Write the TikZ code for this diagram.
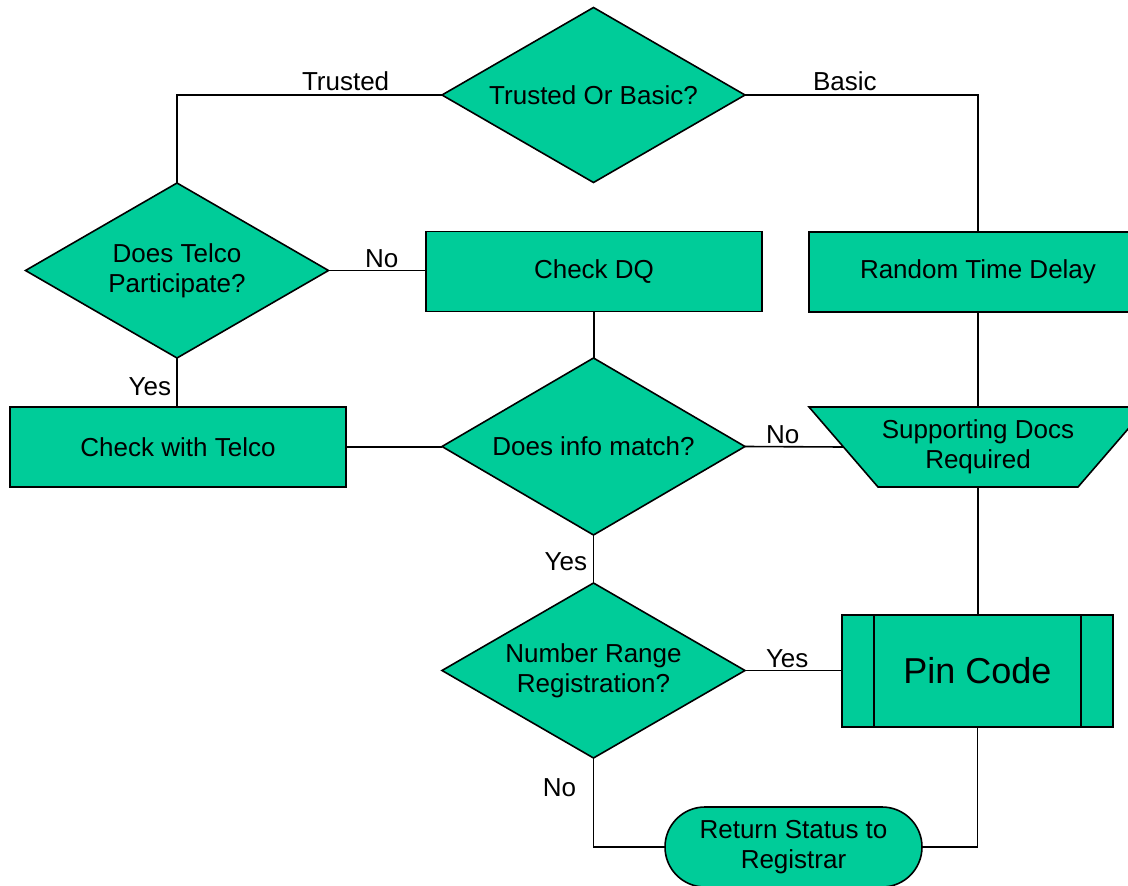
\documentclass[tikz,border=0pt]{standalone}
\usepackage{fontspec}
\setmainfont{Liberation Sans}
\usetikzlibrary{shapes.geometric}
\definecolor{flowgreen}{HTML}{00CC99}
\tikzset{
  x=1pt, y=-1pt,
  every node/.style={font=\fontsize{26}{30}\selectfont, inner sep=0pt, outer sep=0pt},
  base/.style={draw=black, line width=1.6pt, fill=flowgreen, align=center},
  decision/.style={base, diamond, aspect=1.73, minimum width=303pt, minimum height=175pt},
  procbox/.style={base, rectangle, minimum width=#1, minimum height=80pt},
  procbox/.default=336pt,
  termbox/.style={base, rectangle, rounded corners=40pt, minimum width=257pt, minimum height=80pt},
  conn/.style={draw=black, line width=1.6pt},
  lbl/.style={font=\fontsize{26}{30}\selectfont}
}
\begin{document}
\begin{tikzpicture}
\useasboundingbox (0,0) rectangle (1128,886);
% nodes
\node[decision] (d1) at (593.5,95) {Trusted Or Basic?};
\node[decision] (d2) at (177,270.5) {Does Telco\\Participate?};
\node[procbox] (dq) at (594,271.5) {Check DQ};
\node[procbox=338pt] (rtd) at (978,272) {Random Time Delay};
\node[procbox] (cwt) at (178,447) {Check with Telco};
\node[decision, minimum height=177pt] (d3) at (593.5,446.5) {Does info match?};
% supporting docs trapezoid
\coordinate (sdrc) at (978,447);
\coordinate (sdrw) at (843.5,447);
\filldraw[base] (809,407) -- (1147,407) -- (1078,487) -- (878,487) -- cycle;
\node[align=center] (sdr) at (sdrc) {Supporting Docs\\Required};
\coordinate (sdrn) at (978,407);
\coordinate (sdrs) at (978,487);
\node[base, rectangle, minimum width=271pt, minimum height=112pt, font=\fontsize{36}{40}\selectfont] (pin) at (977.5,671) {Pin Code};
\draw[line width=1.6pt] ([xshift=32pt]pin.north west) -- ([xshift=32pt]pin.south west);
\draw[line width=1.6pt] ([xshift=-32pt]pin.north east) -- ([xshift=-32pt]pin.south east);
\node[decision] (d4) at (593.5,670.5) {Number Range\\Registration?};
\node[termbox] (ret) at (793.5,847) {Return Status to\\Registrar};
% connectors
\draw[conn] (d1.west) -| (d2.north);
\draw[conn] (d1.east) -| (rtd.north);
\draw[conn] (d2.east) -- (d2.east -| dq.west);
\draw[conn] (d2.south) -- (d2.south |- cwt.north);
\draw[conn] (dq.south) -- (dq.south |- d3.north);
\draw[conn] (cwt.east) -- (cwt.east -| d3.west);
\draw[conn] (d3.east) -- (sdrw);
\draw[conn] (rtd.south) -- (sdrn);
\draw[conn] (sdrs) -- (sdrs |- pin.north);
\draw[conn] (d3.south) -- (d3.south |- d4.north);
\draw[conn] (d4.east) -- (d4.east -| pin.west);
\draw[conn] (d4.south) |- (ret.west);
\draw[conn] (ret.east) -| (pin.south);
% labels
\node[lbl, anchor=base west] (ltrusted) at (302,90) {Trusted};
\node[lbl, anchor=base west] (lbasic) at (813,90) {Basic};
\node[lbl, anchor=base west] (lno1) at (365,267) {No};
\node[lbl, anchor=base east] (lyes1) at (171,395) {Yes};
\node[lbl, anchor=base east] (lyes2) at (587,570) {Yes};
\node[lbl, anchor=base west] (lno2) at (766,443) {No};
\node[lbl, anchor=base west] (lyes3) at (766,667) {Yes};
\node[lbl, anchor=base east] (lno3) at (576,796) {No};
\end{tikzpicture}
\end{document}
